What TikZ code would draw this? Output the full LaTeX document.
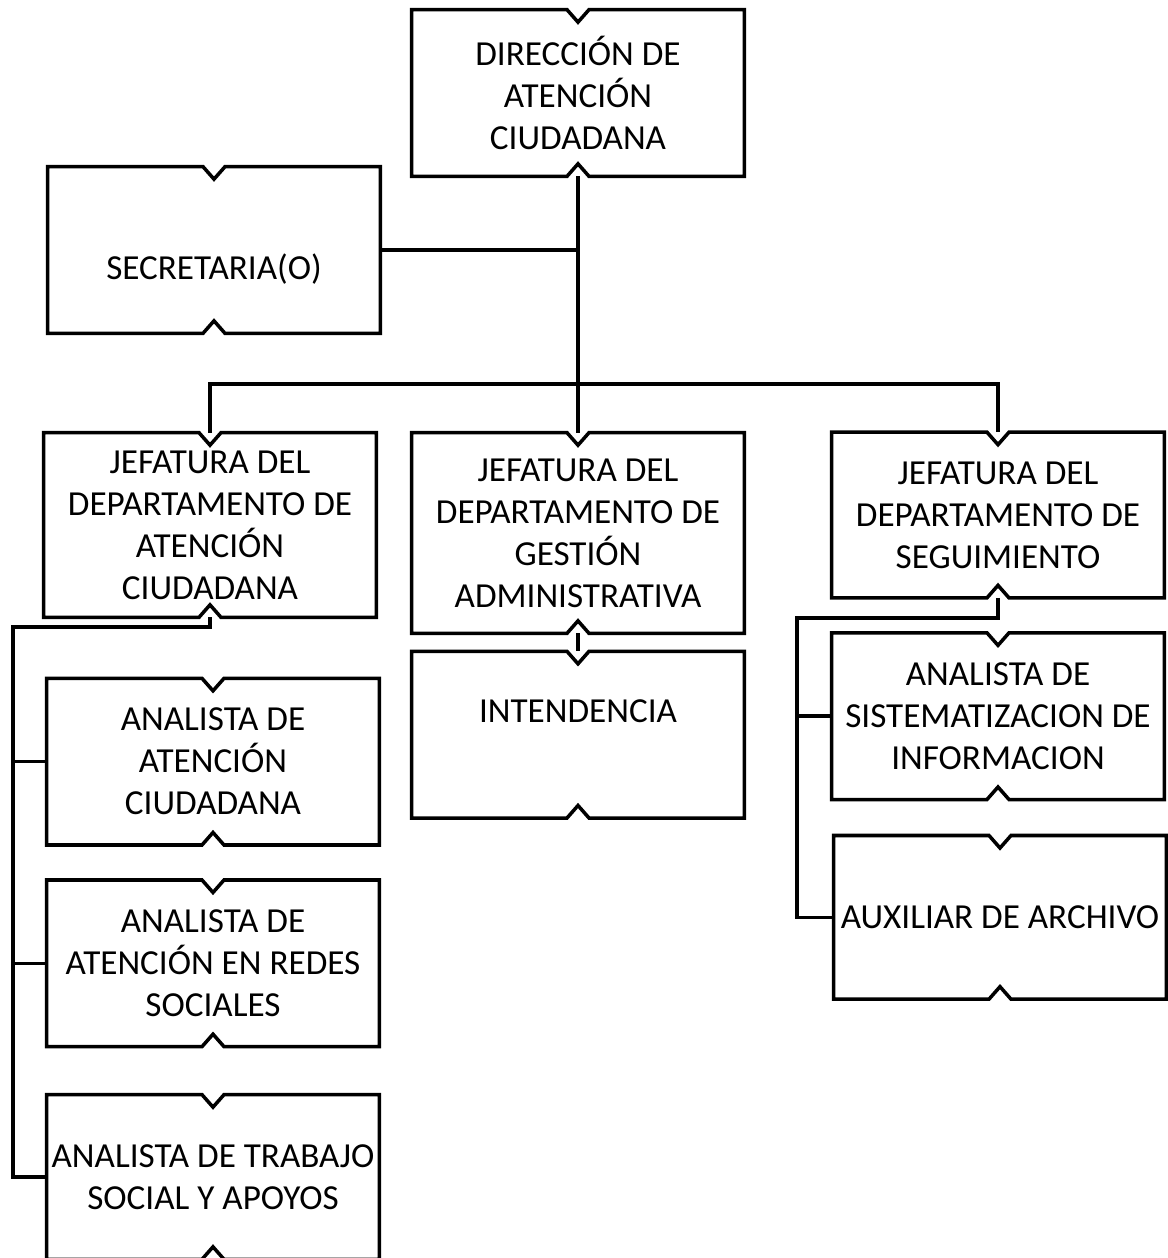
\documentclass[tikz,border=0pt]{standalone}
\usepackage{fontspec}
\setmainfont{Carlito}
\usetikzlibrary{positioning}

\tikzset{
  orgbox/.style={rectangle, minimum width=6.64cm, minimum height=3.32cm, inner sep=0pt, align=center, font=\fontsize{20pt}{23.9pt}\selectfont},
  boxline/.style={line width=2pt, line join=miter},
  link/.style={line width=2pt},
}

\begin{document}
\begin{tikzpicture}[x=0.02cm, y=-0.02cm]
		\useasboundingbox (0,0) rectangle (1167,1258);
		
		\node[orgbox] (DIR) at (578,93) {DIRECCIÓN DE\\ATENCIÓN\\CIUDADANA};
		\node[orgbox] (SEC) at (214,250) {\strut\\\strut SECRETARIA(O)};
		
		\node[orgbox, minimum height=3.68cm] (JEF1) at (210,525) {JEFATURA DEL\\DEPARTAMENTO DE\\ATENCIÓN\\CIUDADANA};
		\node[orgbox, minimum height=4cm] (JEF2) at (578,533) {JEFATURA DEL\\DEPARTAMENTO DE\\GESTIÓN\\ADMINISTRATIVA};
		\node[orgbox, minimum height=3.3cm] (JEF3) at (998,515) {JEFATURA DEL\\DEPARTAMENTO DE\\SEGUIMIENTO};
		
		\node[orgbox, below=1.22cm of JEF1, xshift=0.06cm] (AN1) {ANALISTA DE\\ATENCIÓN\\CIUDADANA};
		\node[orgbox, below=0.7cm of AN1] (AN2) {ANALISTA DE\\ATENCIÓN EN REDES\\SOCIALES};
		\node[orgbox, below=0.96cm of AN2, minimum height=3.28cm] (AN3) {ANALISTA DE TRABAJO\\SOCIAL Y APOYOS};
		
		\node[orgbox, below=0.36cm of JEF2] (INT) {\strut INTENDENCIA\\\strut};
		
		\node[orgbox, below=0.7cm of JEF3] (SIS) {ANALISTA DE\\SISTEMATIZACION DE\\INFORMACION};
		\node[orgbox, below=0.72cm of SIS, xshift=0.04cm, minimum height=3.26cm] (AUX) {AUXILIAR DE ARCHIVO};
		
		% notched outlines
		\foreach \n in {DIR,SEC,JEF1,JEF2,JEF3,AN1,AN2,AN3,INT,SIS,AUX}
			\draw[boxline] (\n.north west) -- ([xshift=-0.22cm]\n.north) -- ([yshift=-0.25cm]\n.north) -- ([xshift=0.22cm]\n.north) -- (\n.north east)
				-- (\n.south east) -- ([xshift=0.22cm]\n.south) -- ([yshift=0.25cm]\n.south) -- ([xshift=-0.22cm]\n.south) -- (\n.south west) -- cycle;
		
		\coordinate (bar) at (578,384);
		\coordinate (railL) at (13,627);
		\coordinate (railR) at (797,618);
		
		\draw[link] (DIR.south) -- (JEF2.north);
		\draw[link] (SEC.east) -- (SEC.east -| DIR.south);
		\draw[link] (JEF1.north) |- (bar) -| (JEF3.north);
		
		\draw[link] (JEF1.south) |- (railL) |- (AN3.west);
		\draw[link] (AN1.west) -- (AN1.west -| railL);
		\draw[link] (AN2.west) -- (AN2.west -| railL);
		
		\draw[link] (JEF2.south) -- (INT.north);
		
		\draw[link] (JEF3.south) |- (railR) |- (AUX.west);
		\draw[link] (SIS.west) -- (SIS.west -| railR);
		
	\end{tikzpicture}
\end{document}
